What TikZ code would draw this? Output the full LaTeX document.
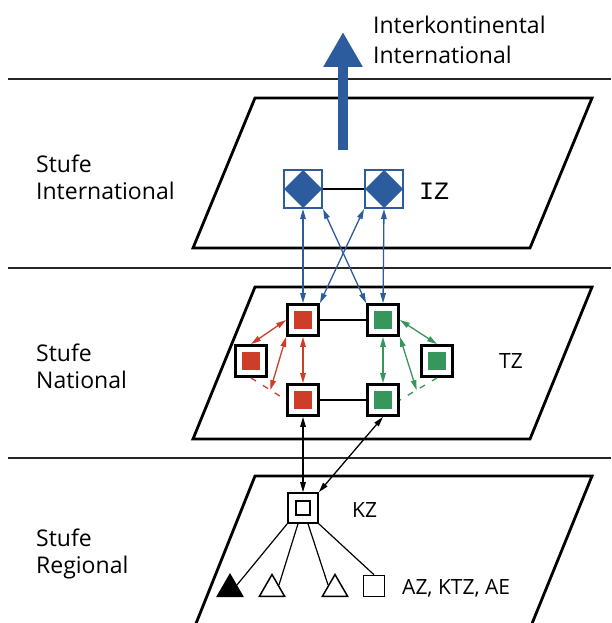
\documentclass[tikz,border=0pt]{standalone}
\usepackage{fontspec}
\setmainfont{Open Sans}
\setmonofont{Liberation Mono}
\usetikzlibrary{arrows.meta,shapes.geometric}

\definecolor{izblau}{RGB}{45,92,158}
\definecolor{tzrot}{RGB}{204,62,42}
\definecolor{tzgruen}{RGB}{55,150,92}

\tikzset{
    ebene/.style={line width=2.8pt, line join=miter},
    trenner/.style={line width=1.2pt, black!85},
    iz/.style={draw=izblau, fill=white, line width=2pt, minimum size=38pt, inner sep=0pt,
        path picture={\fill[izblau] (path picture bounding box.north) -- (path picture bounding box.east)
            -- (path picture bounding box.south) -- (path picture bounding box.west) -- cycle;}},
    tz/.style={draw, fill=white, line width=2.8pt, minimum size=31pt, inner sep=0pt,
        path picture={\fill[#1] ([shift={(-9pt,-9pt)}]path picture bounding box.center)
            rectangle ([shift={(9pt,9pt)}]path picture bounding box.center);}},
    kz/.style={draw, fill=white, line width=1.6pt, minimum size=30pt, inner sep=0pt,
        path picture={\draw[line width=1.5pt] ([shift={(-7pt,-7pt)}]path picture bounding box.center)
            rectangle ([shift={(7pt,7pt)}]path picture bounding box.center);}},
    dreieck/.style={regular polygon, regular polygon sides=3, draw, line width=1.5pt,
        minimum size=29pt, inner sep=0pt},
    kasten/.style={draw, line width=1.5pt, minimum size=21pt, inner sep=0pt},
    spitze/.style={{Triangle[length=10pt,width=5.5pt]}-{Triangle[length=10pt,width=5.5pt]}, line width=1.3pt},
    strich/.style={dash pattern=on 6pt off 8pt, line width=1.3pt},
    grosspfeil/.style={izblau, line width=10pt, -{Triangle[length=35pt,width=37pt]}},
    stufe/.style={anchor=west, align=left, font=\fontsize{23}{27}\selectfont, inner sep=0pt},
    kennung/.style={anchor=west, font=\fontsize{21}{24}\selectfont, inner sep=0pt}
}

\begin{document}
\begin{tikzpicture}[x=1pt,y=-1pt]
    \useasboundingbox (0,0) rectangle (611,623);

    % Trennlinien und Ebenen
    \foreach \y in {79,268,458} {
        \draw[trenner] (8,\y) -- (611,\y);
    }
    \draw[ebene] (255,98) -- (592,98) -- (530,248) -- (193,248) -- cycle;
    \draw[ebene] (255,287) -- (592,287) -- (530,439) -- (193,439) -- cycle;
    \draw[ebene] (195,626) -- (255,476) -- (592,476) -- (531,626);

    % Stufen
    \node[stufe] (st-int) at (36,177) {Stufe\\International};
    \node[stufe] (st-nat) at (36,366) {Stufe\\National};
    \node[stufe] (st-reg) at (36,554) {Stufe\\Regional};

    % Interkontinental
    \coordinate (pfeilfuss) at (343,150);
    \coordinate (pfeilspitze) at (343,32);
    \draw[grosspfeil] (pfeilfuss) -- (pfeilspitze);
    \node[anchor=west, align=left, inner sep=0pt, font=\fontsize{23}{30}\selectfont]
        (interk) at (373,40) {Interkontinental\\International};

    % Stufe International
    \node[iz] (iz1) at (303,189) {};
    \node[iz] (iz2) at (384,189) {};
    \draw[line width=1.2pt] (iz1) -- (iz2);
    \node[kennung, font=\fontsize{25}{28}\ttfamily] (iz-label) at (419,191) {IZ};

    % Stufe National
    \node[tz=tzrot] (tz-r1) at (303,320) {};
    \node[tz=tzrot] (tz-r2) at (303,400) {};
    \node[tz=tzrot] (tz-r3) at (251,361) {};
    \node[tz=tzgruen] (tz-g1) at (383,320) {};
    \node[tz=tzgruen] (tz-g2) at (383,400) {};
    \node[tz=tzgruen] (tz-g3) at (437,361) {};
    \draw[line width=1.2pt] (tz-r1) -- (tz-g1);
    \draw[line width=1.2pt] (tz-r2) -- (tz-g2);
    \node[kennung] (tz-label) at (499,361) {TZ};

    \draw[strich, tzrot] (tz-r3.south) -- coordinate[pos=.55] (rm) (tz-r2.west);
    \draw[spitze, tzrot] (tz-r1.west) -- (tz-r3.north);
    \draw[spitze, tzrot] (tz-r1.south) -- (tz-r2.north);
    \draw[spitze, tzrot] (tz-r1.south west) -- (rm);
    \draw[strich, tzgruen] (tz-g3.south) -- coordinate[pos=.55] (gm) (tz-g2.east);
    \draw[spitze, tzgruen] (tz-g1.east) -- (tz-g3.north);
    \draw[spitze, tzgruen] (tz-g1.south) -- (tz-g2.north);
    \draw[spitze, tzgruen] (tz-g1.south east) -- (gm);

    % Verbindungen International - National
    \draw[spitze, izblau] (iz1.south) -- (tz-r1.north);
    \draw[spitze, izblau] (iz2.south) -- (tz-g1.north);
    \draw[spitze, izblau] (iz1.south east) -- (tz-g1.north west);
    \draw[spitze, izblau] (iz2.south west) -- (tz-r1.north east);

    % Stufe Regional
    \node[kz] (kz) at (303,508) {};
    \node[kennung] (kz-label) at (352,510) {KZ};
    \draw[spitze] (tz-r2.south) -- (kz.north);
    \draw[spitze] (tz-g2.south) -- (kz.north east);

    \node[dreieck, fill=black] (az1) at (230,589) {};
    \node[dreieck] (az2) at (272,589) {};
    \node[dreieck] (az3) at (335,589) {};
    \node[kasten] (az4) at (374,586) {};
    \node[kennung] (az-label) at (402,588) {AZ, KTZ, AE};
    \draw[line width=1.2pt] (kz.south west) -- (az1.side 3)
        ([xshift=-5pt]kz.south) -- (az2.side 3)
        ([xshift=5pt]kz.south) -- (az3.side 1)
        (kz.south east) -- (az4.north);
\end{tikzpicture}
\end{document}
